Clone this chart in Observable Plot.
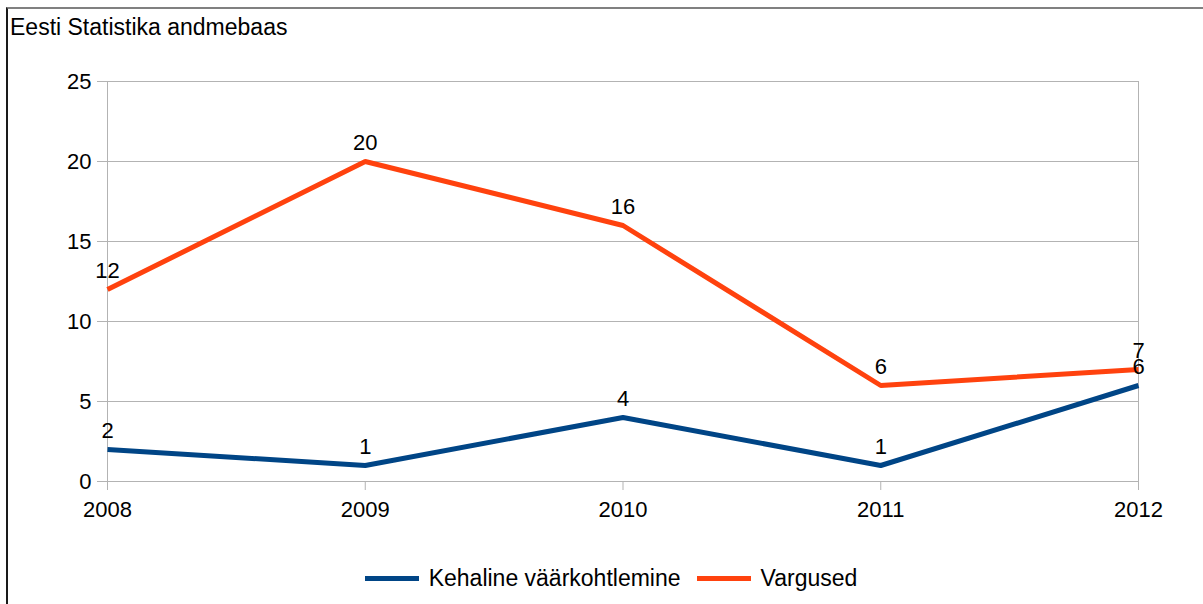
<!DOCTYPE html>
<html>
<head>
<meta charset="utf-8">
<script src="https://cdn.jsdelivr.net/npm/d3@7"></script>
<script src="https://cdn.jsdelivr.net/npm/@observablehq/plot@0.6"></script>
<style>
  html, body { margin: 0; padding: 0; background: #fff; overflow: hidden; }
  #wrap { position: relative; width: 1203px; height: 604px; font-family: "Liberation Sans", Arial, sans-serif; }
  #frame { position: absolute; left: 6px; top: 7px; width: 1210px; height: 610px;
           border-left: 2px solid #1a1a1a; border-top: 2px solid #808080; box-sizing: border-box; }
  #title { position: absolute; left: 10px; top: 16px; font-size: 23px; line-height: 23px; color: #000; white-space: nowrap; }
  #chart { position: absolute; left: 0; top: 0; }
  #legend { position: absolute; left: 0; width: 1222px; top: 565px; height: 26px; display: flex;
            justify-content: center; align-items: center; font-size: 23px; color: #000; }
  .item { display: flex; align-items: center; margin: 0 8px; }
  .sw { display: inline-block; width: 54px; height: 5px; margin-right: 10px; }
</style>
</head>
<body>
<div id="wrap">
  <div id="frame"></div>
  <div id="chart"></div>
  <div id="title"></div>
  <div id="legend"></div>
</div>
<script>
const titleText = "Eesti Statistika andmebaas";
const years = [2008, 2009, 2010, 2011, 2012];
const kehaline = [2, 1, 4, 1, 6];
const vargused = [12, 20, 16, 6, 7];
const yTicks = [0, 5, 10, 15, 20, 25];
const seriesNames = ["Kehaline väärkohtlemine", "Vargused"];
const seriesColors = ["#004586", "#ff420e"];

const data = [];
years.forEach((yr, i) => data.push({year: yr, value: kehaline[i], series: seriesNames[0]}));
years.forEach((yr, i) => data.push({year: yr, value: vargused[i], series: seriesNames[1]}));

document.getElementById("title").textContent = titleText;

const chart = Plot.plot({
  width: 1203,
  height: 545,
  marginLeft: 107,
  marginRight: 65,
  marginTop: 81,
  marginBottom: 64,
  style: {fontFamily: "Liberation Sans, Arial, sans-serif", fontSize: "22px", color: "#000", background: "transparent", overflow: "visible"},
  x: {type: "linear", domain: [2008, 2012]},
  y: {domain: [0, 25]},
  color: {domain: seriesNames, range: seriesColors},
  marks: [
    Plot.ruleY(yTicks, {stroke: "#b3b3b3", strokeWidth: 1}),
    Plot.ruleX([years[0], years[years.length - 1]], {y1: 0, y2: 25, stroke: "#b3b3b3", strokeWidth: 1}),
    Plot.axisY({ticks: yTicks, tickSize: 10, tickPadding: 6, stroke: "#b3b3b3", fill: "#000", label: null, fontSize: 22}),
    Plot.axisX({ticks: years, tickFormat: d => String(d), tickSize: 9, tickPadding: 11, stroke: "#b3b3b3", fill: "#000", label: null, fontSize: 22}),
    Plot.line(data, {x: "year", y: "value", z: "series", stroke: "series", strokeWidth: 5, strokeLinejoin: "miter", strokeLinecap: "butt"}),
    Plot.text(data, {x: "year", y: "value", text: d => String(d.value), dy: -19, fill: "#000", fontSize: 22})
  ]
});
document.getElementById("chart").appendChild(chart);

const legend = document.getElementById("legend");
seriesNames.forEach((name, i) => {
  const item = document.createElement("div");
  item.className = "item";
  const sw = document.createElement("span");
  sw.className = "sw";
  sw.style.background = seriesColors[i];
  const lab = document.createElement("span");
  lab.textContent = name;
  item.appendChild(sw);
  item.appendChild(lab);
  legend.appendChild(item);
});
</script>
</body>
</html>
